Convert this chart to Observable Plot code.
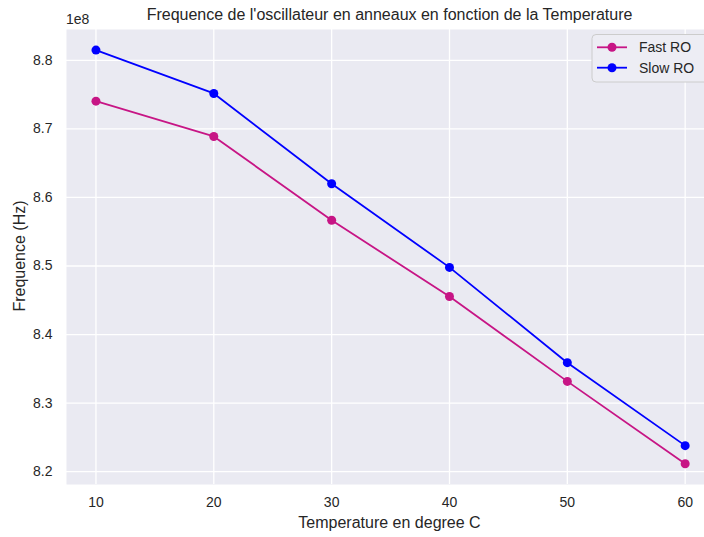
<!DOCTYPE html>
<html>
<head>
<meta charset="utf-8">
<script src="https://cdn.jsdelivr.net/npm/d3@7"></script>
<script src="https://cdn.jsdelivr.net/npm/@observablehq/plot@0.6"></script>
<style>
  html, body { margin: 0; padding: 0; background: #fff; }
  #chart svg { display: block; }
</style>
</head>
<body>
<div id="chart"></div>
<script>
const temperatures = [10, 20, 30, 40, 50, 60];
const fastRO = [8.7405e8, 8.689e8, 8.5667e8, 8.4555e8, 8.3317e8, 8.2115e8];
const slowRO = [8.815e8, 8.7517e8, 8.620e8, 8.498e8, 8.359e8, 8.238e8];
const seriesNames = ["Fast RO", "Slow RO"];
const seriesColors = ["#C71585", "#0000FF"];
const xTicks = [10, 20, 30, 40, 50, 60];
const yTicks = [8.2e8, 8.3e8, 8.4e8, 8.5e8, 8.6e8, 8.7e8, 8.8e8];
const titleText = "Frequence de l'oscillateur en anneaux en fonction de la Temperature";
const xLabel = "Temperature en degree C";
const yLabel = "Frequence (Hz)";
const offsetText = "1e8";

const rows = [];
temperatures.forEach((t, i) => {
  rows.push({temp: t, freq: fastRO[i], series: seriesNames[0]});
  rows.push({temp: t, freq: slowRO[i], series: seriesNames[1]});
});

const FONT = "'Liberation Sans', Arial, sans-serif";
const TEXT = "#262626";

const plot = Plot.plot({
  width: 704,
  height: 537,
  marginLeft: 66,
  marginRight: 0,
  marginTop: 29,
  marginBottom: 53,
  style: {fontFamily: FONT, color: TEXT, background: "#fff"},
  x: {domain: [7.5, 61.64], ticks: xTicks},
  y: {domain: [8.1813e8, 8.845e8], ticks: yTicks},
  color: {domain: seriesNames, range: seriesColors},
  marks: [
    Plot.frame({fill: "#EAEAF2", stroke: null}),
    Plot.gridX(xTicks, {stroke: "#fff", strokeOpacity: 1, strokeWidth: 1.3}),
    Plot.gridY(yTicks, {stroke: "#fff", strokeOpacity: 1, strokeWidth: 1.3}),
    Plot.axisX(xTicks, {tickSize: 0, tickPadding: 13, fontSize: 14, label: null, fill: TEXT}),
    Plot.axisY(yTicks, {tickSize: 0, tickPadding: 14, fontSize: 14, label: null, fill: TEXT,
      tickFormat: d => (d / 1e8).toFixed(1)}),
    Plot.line(rows, {x: "temp", y: "freq", stroke: "series", z: "series", strokeWidth: 1.8}),
    Plot.dot(rows, {x: "temp", y: "freq", fill: "series", r: 4.5, stroke: null})
  ]
});

const svg = d3.select(plot);
function addText(sel, str, x, y, size, anchor) {
  return sel.append("text").text(str)
    .attr("x", x).attr("y", y)
    .style("text-anchor", anchor)
    .style("font-size", size + "px")
    .style("font-family", FONT)
    .style("fill", TEXT);
}
addText(svg, titleText, 389.5, 20, 16, "middle");
addText(svg, offsetText, 66, 24, 14, "start");
addText(svg, xLabel, 389.5, 528, 16, "middle");
addText(svg, yLabel, 0, 0, 16, "middle")
  .attr("x", null).attr("y", null)
  .attr("transform", "translate(25,256) rotate(-90)");

// legend
const lg = svg.append("g");
lg.append("rect").attr("x", 592).attr("y", 34.5).attr("width", 120).attr("height", 47.5)
  .attr("rx", 4).attr("fill", "#EDEDF4").attr("stroke", "#CCCCCC").attr("stroke-width", 1);
seriesNames.forEach((name, i) => {
  const y = 47.3 + i * 20.4;
  lg.append("line").attr("x1", 597).attr("x2", 627).attr("y1", y).attr("y2", y)
    .attr("stroke", seriesColors[i]).attr("stroke-width", 1.8);
  lg.append("circle").attr("cx", 612).attr("cy", y).attr("r", 4.5).attr("fill", seriesColors[i]);
  addText(lg, name, 639, y + 5, 14, "start");
});

document.getElementById("chart").appendChild(plot);
</script>
</body>
</html>
